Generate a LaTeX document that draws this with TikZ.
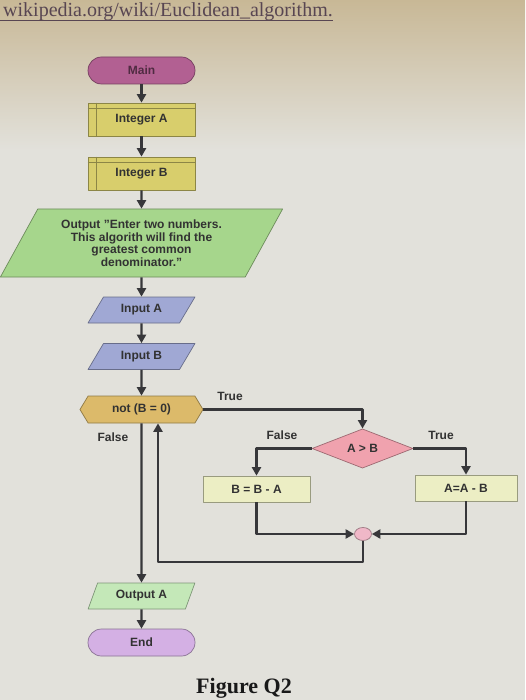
\documentclass[tikz,border=0pt]{standalone}
\usepackage{fontspec}
\setmainfont{Liberation Serif}
\setsansfont{Liberation Sans}
\usepackage{tikz}
\usetikzlibrary{shapes.geometric,shapes.symbols,arrows.meta}
\definecolor{bg}{RGB}{226,225,219}
\definecolor{bgtop}{RGB}{200,184,150}
\definecolor{urlc}{RGB}{88,70,82}
\definecolor{txt}{RGB}{50,50,50}
\definecolor{linec}{RGB}{55,55,58}
\definecolor{mainc}{RGB}{178,96,146}
\definecolor{intc}{RGB}{216,206,108}
\definecolor{outc}{RGB}{166,214,140}
\definecolor{inc}{RGB}{160,168,212}
\definecolor{hexc}{RGB}{220,186,106}
\definecolor{diac}{RGB}{240,162,174}
\definecolor{subc}{RGB}{236,238,196}
\definecolor{joinc}{RGB}{240,184,200}
\definecolor{outac}{RGB}{196,232,184}
\definecolor{endc}{RGB}{212,176,228}

\begin{document}
\begin{tikzpicture}[x=1pt,y=-1pt,join=round, % euclid flowchart
    blk/.style={draw=#1!65!black,fill=#1,line width=0.7pt,inner sep=0pt,text=txt,
        font=\sffamily\bfseries\fontsize{12}{12.5}\selectfont},
    term/.style={blk=#1,rectangle,rounded corners=13.5pt,minimum width=107,minimum height=27},
    proc/.style={blk=#1,rectangle,minimum width=107,minimum height=33},
    io/.style={blk=#1,trapezium,trapezium stretches=true},
    lbl/.style={text=txt,font=\sffamily\bfseries\fontsize{12}{12.5}\selectfont},
    flowarr/.style={draw=linec,line width=2.2pt,-{Triangle[length=8.5pt,width=9pt]}},
    intline/.style={draw=intc!65!black,line width=0.7pt}]
    \useasboundingbox (0,0) rectangle (525,700);
    \fill[bg] (0,0) rectangle (525,700);
    \shade[top color=bgtop,bottom color=bg] (0,0) rectangle (525,150);
    \node[anchor=base west,inner sep=0pt,text=urlc,font=\fontsize{20}{20}\selectfont] (url) at (3,17) {wikipedia.org/wiki/Euclidean\_algorithm.};
    \draw[urlc,line width=1.2pt] ([xshift=-3pt,yshift=-3.5pt]url.base west) -- ([yshift=-3.5pt]url.base east);

    \node[term=mainc,text=mainc!45!black] (main) at (141.5,70.5) {Main};
    \node[proc=intc] (inta) at (141.5,119.5) {Integer A};
    \node[proc=intc] (intb) at (141.5,173.5) {Integer B};
    \draw[intline] ([xshift=9pt]inta.north west) -- ([xshift=9pt]inta.south west);
    \draw[intline] ([yshift=-6pt]inta.north west) -- ([yshift=-6pt]inta.north east);
    \draw[intline] ([xshift=9pt]intb.north west) -- ([xshift=9pt]intb.south west);
    \draw[intline] ([yshift=-6pt]intb.north west) -- ([yshift=-6pt]intb.north east);
    \node[io=outc,trapezium left angle=58,trapezium right angle=122,minimum width=283,minimum height=68,align=center] (outp) at (141.5,243)
        {Output "Enter two numbers.\\This algorith will find the\\greatest common\\denominator."};
    \node[io=inc,trapezium left angle=52,trapezium right angle=128,minimum width=107,minimum height=26] (inpa) at (141.5,310) {Input A};
    \node[io=inc,trapezium left angle=52,trapezium right angle=128,minimum width=107,minimum height=26] (inpb) at (141.5,356.5) {Input B};
    \node[blk=hexc,signal,signal to=west and east,signal pointer angle=118,minimum width=123,minimum height=27] (notb) at (141.5,409.5) {not (B = 0)};
    \node[blk=diac,diamond,minimum width=101,minimum height=39] (gt) at (362.5,448.5) {A > B};
    \node[blk=subc,rectangle,minimum width=107,minimum height=26] (bsub) at (256.5,489) {B = B - A};
    \node[blk=subc,rectangle,minimum width=102,minimum height=26] (asub) at (466,488) {A=A - B};
    \node[blk=joinc,ellipse,minimum width=17,minimum height=13] (jn) at (363,534) {};
    \node[io=outac,trapezium left angle=63,trapezium right angle=117,minimum width=107,minimum height=26] (outa) at (141.5,596) {Output A};
    \node[term=endc] (endn) at (141.5,642.5) {End};

    \draw[flowarr] (main) -- (inta);
    \draw[flowarr] (inta) -- (intb);
    \draw[flowarr] (intb) -- (outp);
    \draw[flowarr] (outp) -- (inpa);
    \draw[flowarr] (inpa) -- (inpb);
    \draw[flowarr] (inpb) -- (notb);
    \draw[flowarr] (notb.east) -| (gt.north);
    \draw[flowarr] (gt.west) -| (bsub.north);
    \draw[flowarr] (gt.east) -| (asub.north);
    \draw[flowarr] (bsub.south) |- (jn.west);
    \draw[flowarr] (asub.south) |- (jn.east);
    \coordinate (back) at (158,562);
    \draw[flowarr] (jn.south) |- (back) -- (notb.south -| back);
    \draw[flowarr] (notb.south) -- (outa.north);
    \draw[flowarr] (outa) -- (endn);

    \node[lbl] (ttrue) at (230,396) {True};
    \node[lbl] (tfalse) at (113,437) {False};
    \node[lbl] (gfalse) at (282,435) {False};
    \node[lbl] (gtrue) at (441,435) {True};
    \node[anchor=base,inner sep=0pt,text=black!90,font=\bfseries\fontsize{22}{22}\selectfont] (fig) at (244,693) {Figure Q2};
\end{tikzpicture}
\end{document}
